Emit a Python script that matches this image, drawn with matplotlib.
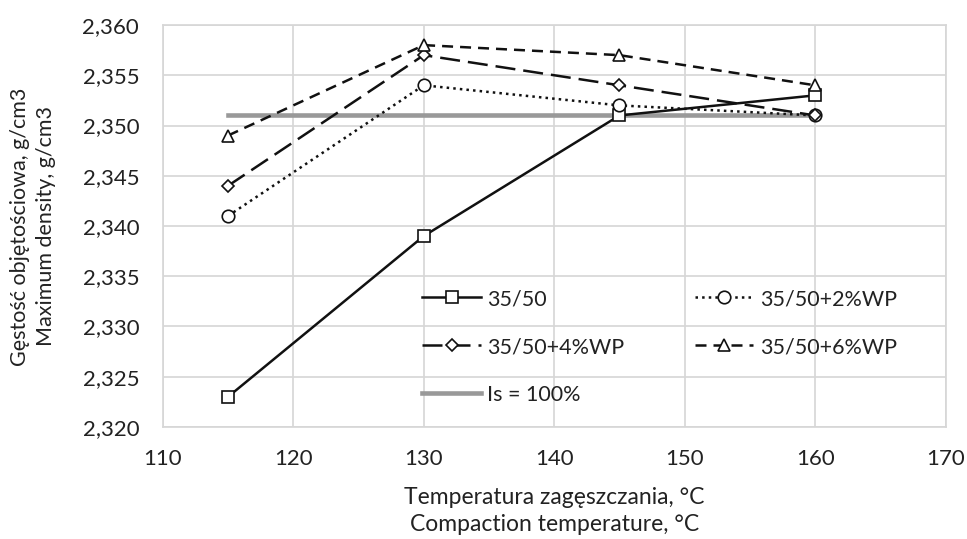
import matplotlib.pyplot as plt
from matplotlib.ticker import FuncFormatter

plt.rcParams['font.family'] = ['Lato', 'DejaVu Sans']

# data
temp = [115, 130, 145, 160]
d_base = [2.323, 2.339, 2.351, 2.353]
d_wp2 = [2.341, 2.354, 2.352, 2.351]
d_wp4 = [2.344, 2.357, 2.354, 2.351]
d_wp6 = [2.349, 2.358, 2.357, 2.354]
is_level = 2.351

fig = plt.figure(figsize=(9.67, 5.39), dpi=100)
ax = fig.add_axes([0.1683, 0.2078, 0.8097, 0.7458])

ink = '#111111'
txt = '#222222'
l1, = ax.plot(temp, d_base, '-', color=ink, lw=1.8, marker='s', ms=8.5,
              mfc='white', mec=ink, mew=1.2, label='35/50', zorder=4)
l2, = ax.plot(temp, d_wp2, ':', color=ink, lw=1.8, marker='o', ms=9,
              mfc='white', mec=ink, mew=1.2, label='35/50+2%WP', zorder=4)
l3, = ax.plot(temp, d_wp4, color=ink, lw=1.8, dashes=(8, 3.2), marker='D', ms=6.5,
              mfc='white', mec=ink, mew=1.2, label='35/50+4%WP', zorder=4)
l4, = ax.plot(temp, d_wp6, color=ink, lw=1.8, dashes=(4.4, 2.8), marker='^', ms=9,
              mfc='white', mec=ink, mew=1.2, label='35/50+6%WP', zorder=4)
l5, = ax.plot([temp[0], temp[-1]], [is_level, is_level], '-', color='#999999',
              lw=3.3, label='Is = 100%', zorder=3)

ax.set_xlim(110, 170)
ax.set_ylim(2.320, 2.360)
ax.set_xticks(range(110, 171, 10))
ax.set_yticks([2.320 + 0.005 * i for i in range(9)])
ax.yaxis.set_major_formatter(FuncFormatter(lambda v, p: f'{v:.3f}'.replace('.', ',')))
ax.grid(True, color='#d6d6d6', lw=1.2)
ax.set_axisbelow(True)
for s in ax.spines.values():
    s.set_color('#d6d6d6')
    s.set_linewidth(1.2)
ax.tick_params(length=0, labelsize=16, colors=txt)
ax.tick_params(axis='y', pad=17)
ax.tick_params(axis='x', pad=16)

fig.text(0.5735, 0.052, 'Temperatura zagęszczania, °C\nCompaction temperature, °C',
         fontsize=16.5, color=txt, ha='center', va='center', linespacing=1.4)
fig.text(0.034, 0.58, 'Gęstość objętościowa, g/cm3\nMaximum density, g/cm3',
         fontsize=15.5, color=txt, ha='center', va='center', rotation=90,
         linespacing=1.4)

ax.legend(handles=[l1, l3, l5, l2, l4], ncol=2, frameon=False, fontsize=15.5,
          loc='upper left', bbox_to_anchor=(0.318, 0.37), borderpad=0,
          columnspacing=3.3, handlelength=2.7, handletextpad=0.3,
          labelspacing=1.3, labelcolor=txt)

fig.savefig('out.png', dpi=100)
